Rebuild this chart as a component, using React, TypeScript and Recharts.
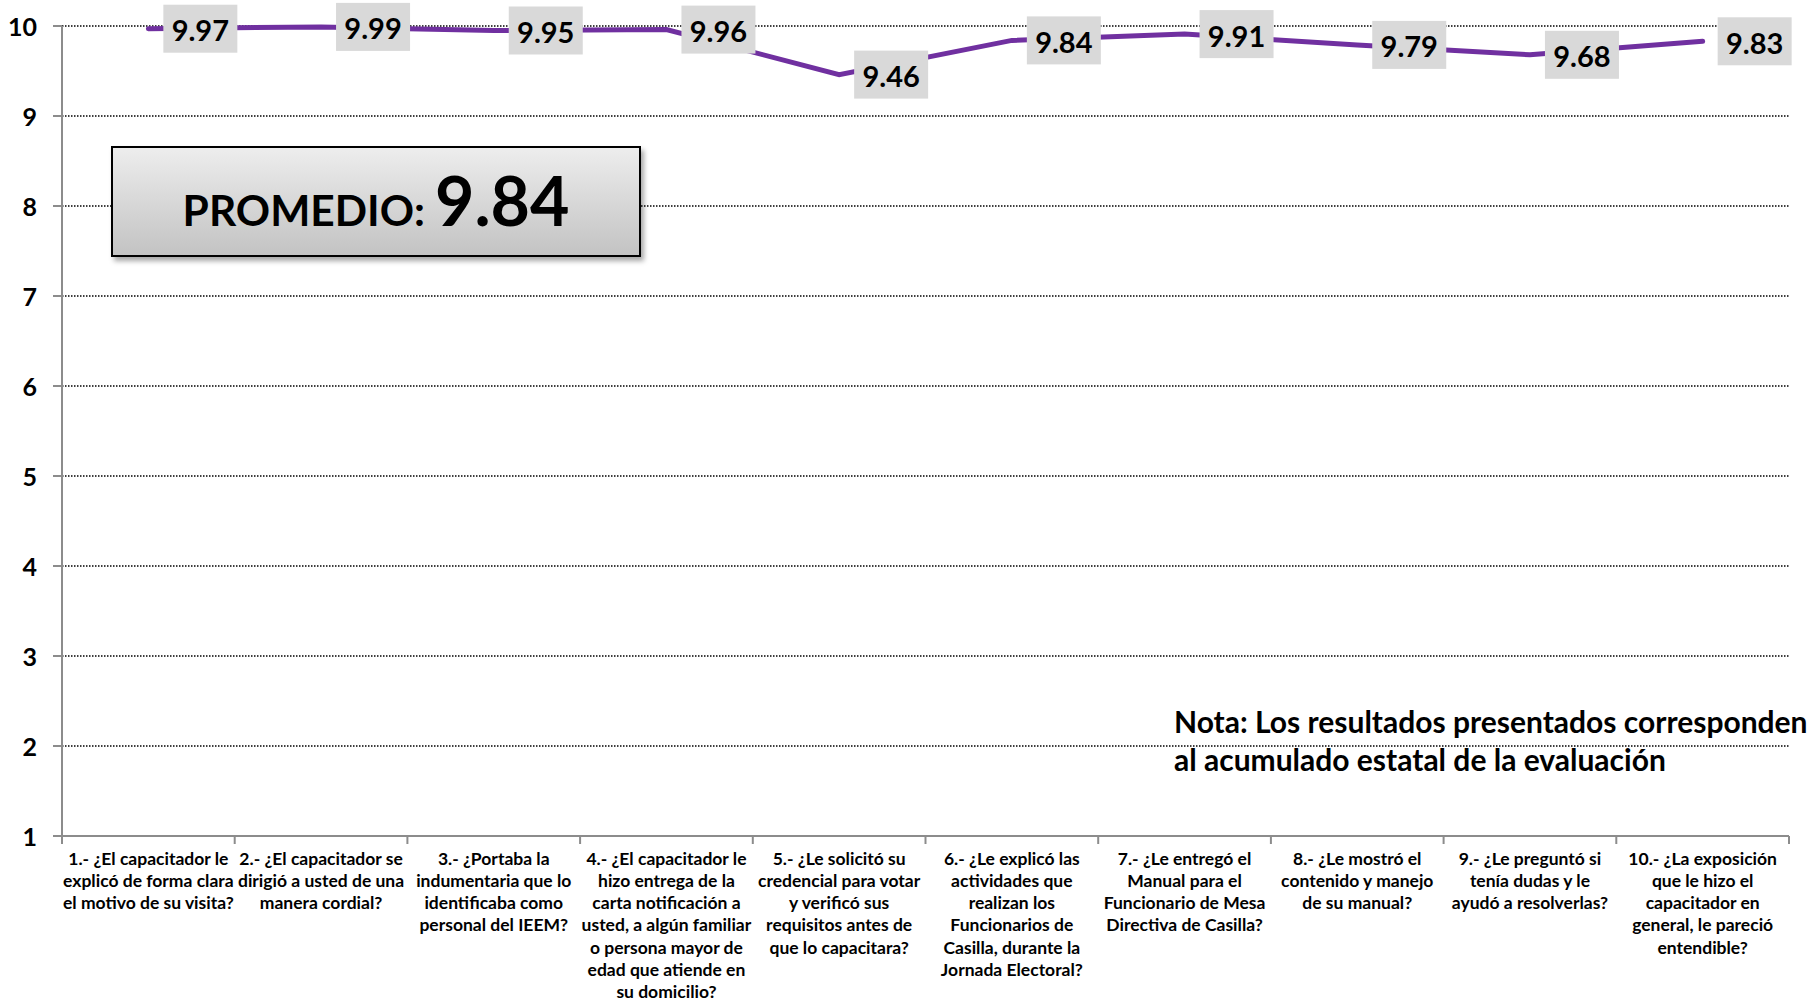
import { LineChart, Line, XAxis, YAxis, CartesianGrid, LabelList } from "recharts";

const preguntas = [
  "1.- ¿El  capacitador le\nexplicó de forma clara\nel motivo de su visita?",
  "2.- ¿El capacitador se\ndirigió a usted de una\nmanera cordial?",
  "3.- ¿Portaba la\nindumentaria que lo\nidentificaba como\npersonal del IEEM?",
  "4.- ¿El capacitador le\nhizo entrega de la\ncarta notificación a\nusted, a algún familiar\no persona mayor de\nedad que atiende en\nsu domicilio?",
  "5.- ¿Le solicitó su\ncredencial para votar\ny verificó sus\nrequisitos antes de\nque lo capacitara?",
  "6.- ¿Le explicó las\nactividades que\nrealizan los\nFuncionarios de\nCasilla, durante la\nJornada Electoral?",
  "7.- ¿Le entregó el\nManual para el\nFuncionario de Mesa\nDirectiva de Casilla?",
  "8.- ¿Le mostró el\ncontenido y manejo\nde su manual?",
  "9.- ¿Le preguntó si\ntenía dudas y le\nayudó a resolverlas?",
  "10.- ¿La exposición\nque le hizo el\ncapacitador en\ngeneral, le pareció\nentendible?",
];

const calificaciones = [9.97, 9.99, 9.95, 9.96, 9.46, 9.84, 9.91, 9.79, 9.68, 9.83];

const escala = [1, 2, 3, 4, 5, 6, 7, 8, 9, 10];

const promedio = 9.84;

const nota = ["Nota: Los resultados presentados corresponden", "al acumulado estatal de la evaluación"];

const data = preguntas.map((p, i) => ({ pregunta: p, valor: calificaciones[i] }));

const FONT = "Lato, 'Open Sans', sans-serif";
const W = 1810;
const H = 1003;
const LEFT = 62;
const RIGHT = 21;
const GRIS = "#8c8c8c";

// categorías centradas en su banda, como en Excel
const anchoBanda = (W - LEFT - RIGHT) / preguntas.length;

const TickX = (props: any) => {
  const { x, y, payload, index } = props;
  const lineas = String(payload.value).split("\n");
  const bordeIzq = x - anchoBanda / 2;
  return (
    <g>
      <line x1={bordeIzq} y1={y} x2={bordeIzq} y2={y + 8} stroke={GRIS} strokeWidth={2} />
      {index === preguntas.length - 1 && (
        <line x1={x + anchoBanda / 2} y1={y} x2={x + anchoBanda / 2} y2={y + 8} stroke={GRIS} strokeWidth={2} />
      )}
      <text textAnchor="middle" fontFamily={FONT} fontWeight="bold" fontSize={17.5} fill="#000">
        {lineas.map((l, i) => (
          <tspan key={i} x={x} y={y + 22 + i * 22.3} dominantBaseline="central">
            {l}
          </tspan>
        ))}
      </text>
    </g>
  );
};

const TickY = (props: any) => {
  const { x, y, payload } = props;
  return (
    <text x={x} y={y} textAnchor="end" dominantBaseline="central" fontFamily={FONT} fontWeight="bold" fontSize={25} fill="#000">
      {payload.value}
    </text>
  );
};

const Etiqueta = (props: any) => {
  const { x, y, value } = props;
  return (
    <g>
      <rect x={x + 15} y={y - 24} width={74} height={48} fill="#d9d9d9" />
      <text x={x + 52} y={y + 1} textAnchor="middle" dominantBaseline="central" fontFamily={FONT} fontWeight="bold" fontSize={29} fill="#000">
        {Number(value).toFixed(2)}
      </text>
    </g>
  );
};

const App = () => {
  return (
    <div style={{ position: "absolute", left: 0, top: 0, width: W, height: H, background: "#fff", fontFamily: FONT }}>
      <LineChart width={W} height={H} data={data} margin={{ top: 26, right: RIGHT, left: 0, bottom: 0 }}>
        <CartesianGrid vertical={false} stroke="#000" strokeDasharray="1.5 1.5" strokeWidth={1.5} />
        <XAxis
          dataKey="pregunta"
          interval={0}
          height={167}
          tickSize={0}
          tickMargin={0}
          tickLine={false}
          padding={{ left: anchoBanda / 2, right: anchoBanda / 2 }}
          axisLine={{ stroke: GRIS, strokeWidth: 2 }}
          tick={<TickX />}
        />
        <YAxis
          width={LEFT}
          domain={[1, 10]}
          ticks={escala}
          interval={0}
          tickSize={9}
          tickMargin={16}
          tickLine={{ stroke: GRIS, strokeWidth: 2 }}
          axisLine={{ stroke: GRIS, strokeWidth: 2 }}
          tick={<TickY />}
        />
        <Line
          type="linear"
          dataKey="valor"
          stroke="#7030A0"
          strokeWidth={5}
          strokeLinecap="round"
          dot={false}
          activeDot={false}
          isAnimationActive={false}
        >
          <LabelList dataKey="valor" content={<Etiqueta />} />
        </Line>
      </LineChart>

      <div
        style={{
          position: "absolute",
          left: 111,
          top: 146,
          width: 530,
          height: 111,
          boxSizing: "border-box",
          border: "2px solid #000",
          background: "linear-gradient(#ededed, #c3c3c3)",
          boxShadow: "3px 4px 5px rgba(0,0,0,0.35)",
          display: "flex",
          alignItems: "baseline",
          justifyContent: "center",
          paddingTop: 4,
          fontWeight: "bold",
          color: "#000",
        }}
      >
        <span style={{ fontSize: 42.5, lineHeight: "95px" }}>PROMEDIO:</span>
        <span style={{ fontSize: 68, lineHeight: "95px", marginLeft: 10 }}>{promedio.toFixed(2)}</span>
      </div>

      <div
        style={{
          position: "absolute",
          left: 1174,
          top: 702,
          fontSize: 30,
          lineHeight: "38px",
          fontWeight: "bold",
          color: "#000",
          whiteSpace: "nowrap",
        }}
      >
        {nota.map((l, i) => (
          <div key={i}>{l}</div>
        ))}
      </div>
    </div>
  );
};

export default App;
